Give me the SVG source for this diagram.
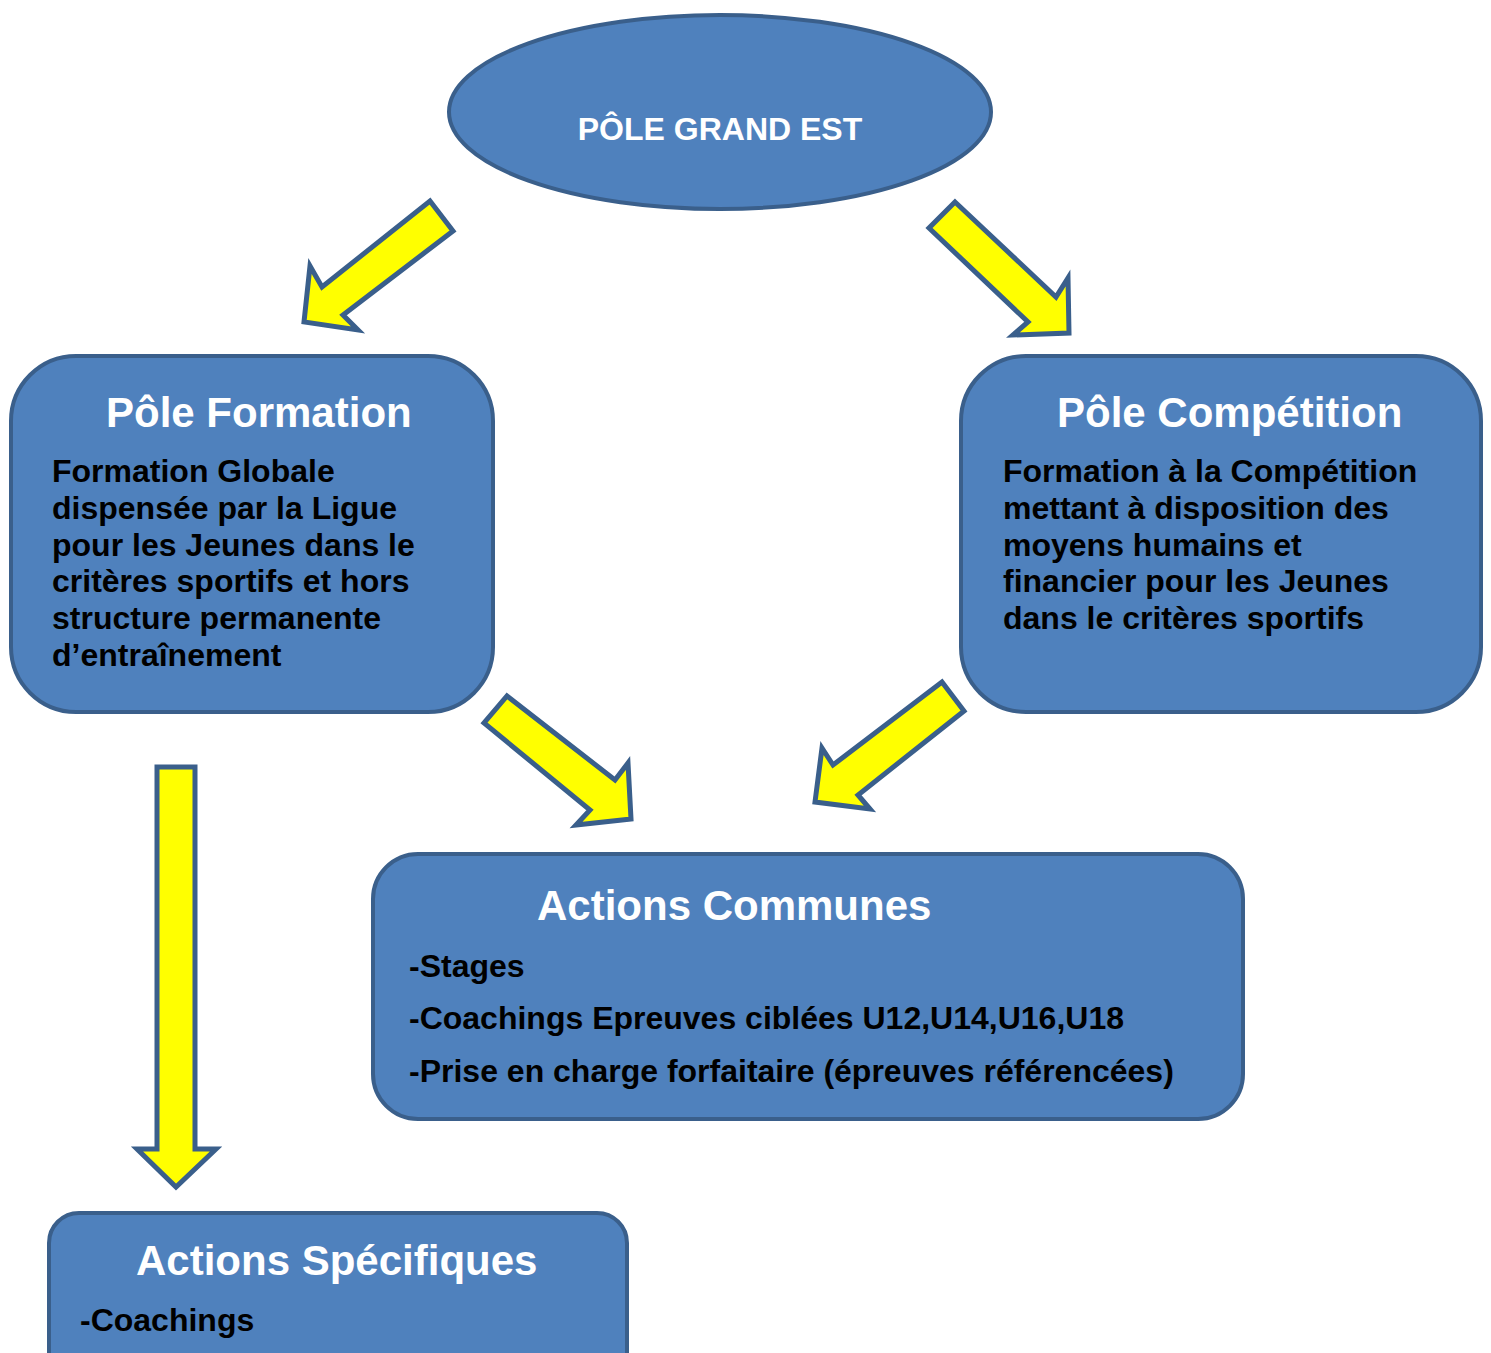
<svg xmlns="http://www.w3.org/2000/svg" width="1491" height="1353" viewBox="0 0 1491 1353">
<style>
.box{fill:#4F81BD;stroke:#3A5F8B;stroke-width:4}
.arr{fill:#FFFF00;stroke:#3A5F8B;stroke-width:5;stroke-linejoin:miter}
.t{font-family:"Liberation Sans",Arial,sans-serif;font-weight:bold}
.w{fill:#FFFFFF}
.title{font-size:42px}
.body{font-size:32px;fill:#000000}
</style>
<rect width="1491" height="1353" fill="#FFFFFF"/>
<g id="connectors">
<polygon class="arr" points="430,201 453,231 343,315 358,330 304,322 310,266 322,287"/>
<polygon class="arr" points="955,202 1056,297 1068,278 1069,333 1013,335 1028,322 929,228"/>
<polygon class="arr" points="507,696 615,780 628,763 631,819 576,825 590,810 484,723"/>
<polygon class="arr" points="942,682 964,711 858,795 870,809 815,802 822,748 833,765"/>
<polygon class="arr" points="157,767 195,767 195,1149 216,1149 176,1187 137,1149 157,1149"/>
</g>
<g id="pole-grand-est">
<ellipse class="box" cx="720" cy="112" rx="271" ry="97"/>
<text class="t w" x="720" y="140" font-size="32" text-anchor="middle">PÔLE GRAND EST</text>
</g>
<g id="pole-formation">
<rect class="box" x="11" y="356" width="482" height="356" rx="65" ry="65"/>
<text class="t w title" x="106" y="427">Pôle Formation</text>
<text class="t body" x="52" y="482">Formation Globale</text>
<text class="t body" x="52" y="519">dispensée par la Ligue</text>
<text class="t body" x="52" y="556">pour les Jeunes dans le</text>
<text class="t body" x="52" y="592">critères sportifs et hors</text>
<text class="t body" x="52" y="629">structure permanente</text>
<text class="t body" x="52" y="666">d’entraînement</text>
</g>
<g id="pole-competition">
<rect class="box" x="961" y="356" width="520" height="356" rx="65" ry="65"/>
<text class="t w title" x="1057" y="427">Pôle Compétition</text>
<text class="t body" x="1003" y="482">Formation à la Compétition</text>
<text class="t body" x="1003" y="519">mettant à disposition des</text>
<text class="t body" x="1003" y="556">moyens humains et</text>
<text class="t body" x="1003" y="592">financier pour les Jeunes</text>
<text class="t body" x="1003" y="629">dans le critères sportifs</text>
</g>
<g id="actions-communes">
<rect class="box" x="373" y="854" width="870" height="265" rx="45" ry="45"/>
<text class="t w title" x="537" y="920">Actions Communes</text>
<text class="t body" x="409" y="977">-Stages</text>
<text class="t body" x="409" y="1029">-Coachings Epreuves ciblées U12,U14,U16,U18</text>
<text class="t body" x="409" y="1082">-Prise en charge forfaitaire (épreuves référencées)</text>
</g>
<g id="actions-specifiques">
<rect class="box" x="49" y="1213" width="578" height="180" rx="30" ry="30"/>
<text class="t w title" x="136" y="1275">Actions Spécifiques</text>
<text class="t body" x="80" y="1331">-Coachings</text>
</g>
</svg>
